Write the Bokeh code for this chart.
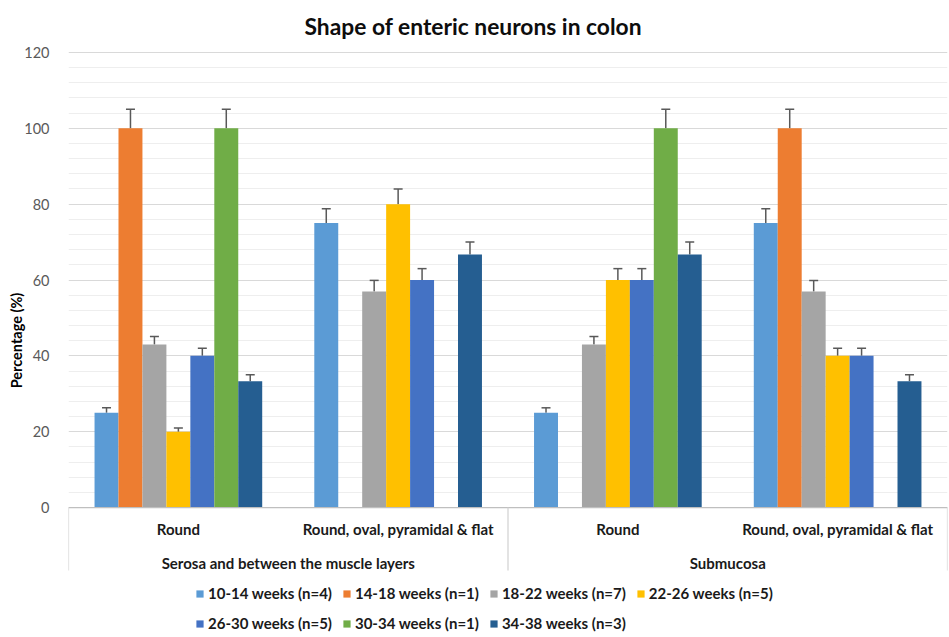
from bokeh.plotting import figure
from bokeh.models import Range1d, FixedTicker, ColumnDataSource, Whisker, TeeHead
from bokeh.core.properties import value
from bokeh.embed import file_html
from bokeh.resources import INLINE

# ---- data ----
title_text = "Shape of enteric neurons in colon"
y_label = "Percentage (%)"
groups = ["Serosa and between the muscle layers", "Submucosa"]
shapes = ["Round", "Round, oval, pyramidal & flat"]
series_names = ["10-14 weeks (n=4)", "14-18 weeks (n=1)", "18-22 weeks (n=7)",
                "22-26 weeks (n=5)", "26-30 weeks (n=5)", "30-34 weeks (n=1)",
                "34-38 weeks (n=3)"]
# values per cluster: [Serosa-Round, Serosa-Mixed, Submucosa-Round, Submucosa-Mixed]
w10_14 = [25, 75, 25, 75]
w14_18 = [100, 0, 0, 100]
w18_22 = [43, 57, 43, 57]
w22_26 = [20, 80, 60, 40]
w26_30 = [40, 60, 60, 40]
w30_34 = [100, 0, 100, 0]
w34_38 = [33.3, 66.7, 66.7, 33.3]
# upper error bar sizes
e10_14 = [1.3, 3.8, 1.3, 3.8]
e14_18 = [5, 0, 0, 5]
e18_22 = [2.1, 2.9, 2.1, 2.9]
e22_26 = [1, 4, 3, 2]
e26_30 = [2, 3, 3, 2]
e30_34 = [5, 0, 5, 0]
e34_38 = [1.7, 3.3, 3.3, 1.7]
y_ticks = [0, 20, 40, 60, 80, 100, 120]
y_minor = [4, 8, 12, 16, 24, 28, 32, 36, 44, 48, 52, 56, 64, 68, 72, 76,
           84, 88, 92, 96, 104, 108, 112, 116]

series_vals = [w10_14, w14_18, w18_22, w22_26, w26_30, w30_34, w34_38]
series_errs = [e10_14, e14_18, e18_22, e22_26, e26_30, e30_34, e34_38]
colors = ["#5B9BD5", "#ED7D31", "#A5A5A5", "#FFC000", "#4472C4", "#70AD47", "#255E91"]

FONT = "Lato"
n_clusters = len(groups) * len(shapes)
bw = 0.109

p = figure(width=948, height=636, output_backend="svg", toolbar_location=None,
           x_range=Range1d(0, n_clusters), y_range=Range1d(-34.0, 122.1),
           x_axis_location=None, min_border_left=68, min_border_right=1,
           min_border_bottom=0, min_border_top=44)
p.outline_line_color = None
p.background_fill_color = "white"
p.border_fill_color = "white"

p.title.text = title_text
p.title.align = "left"
p.title.offset = 236
p.title.vertical_align = "top"
p.title.text_font = FONT
p.title.text_font_size = "22.8px"
p.title.text_font_style = "bold"
p.title.text_color = "#0d0d0d"
p.title.standoff = 6

p.xgrid.visible = False
p.ygrid.ticker = FixedTicker(ticks=y_ticks, minor_ticks=y_minor)
p.ygrid.grid_line_color = "#d9d9d9"
p.ygrid.grid_line_width = 1
p.ygrid.minor_grid_line_color = "#eeeeee"
p.ygrid.minor_grid_line_width = 1

p.yaxis.ticker = FixedTicker(ticks=y_ticks)
p.yaxis.axis_line_color = None
p.yaxis.major_tick_line_color = None
p.yaxis.minor_tick_line_color = None
p.yaxis.major_label_text_font = FONT
p.yaxis.major_label_text_font_size = "14.5px"
p.yaxis.major_label_text_color = "#595959"
p.yaxis.major_label_standoff = 13
p.yaxis.axis_label = y_label
p.yaxis.axis_label_text_font = FONT
p.yaxis.axis_label_text_font_size = "14.5px"
p.yaxis.axis_label_text_font_style = "bold"
p.yaxis.axis_label_text_color = "#000000"
p.yaxis.axis_label_standoff = -4

centers = [k + 0.5 for k in range(n_clusters)]

for j, (name, vals, errs, col) in enumerate(zip(series_names, series_vals, series_errs, colors)):
    xs = [c + (j - 3) * bw for c in centers]
    p.vbar(x=xs, top=vals, width=bw, fill_color=col, line_color=None,
           legend_label=name)
    keep = [i for i, v in enumerate(vals) if v > 0]
    src = ColumnDataSource(dict(x=[xs[i] for i in keep],
                                lo=[vals[i] for i in keep],
                                hi=[vals[i] + errs[i] for i in keep]))
    wk = Whisker(source=src, base="x", lower="lo", upper="hi",
                 line_color="#595959", line_width=1.5, lower_head=None,
                 upper_head=TeeHead(size=9, line_color="#595959", line_width=1.5))
    p.add_layout(wk)

# axis baseline and category separators
p.segment(x0=[0], y0=[0], x1=[n_clusters], y1=[0], line_color="#bfbfbf", line_width=1.2)
sep_x = [0, 2, 4]
p.segment(x0=sep_x, y0=[0] * 3, x1=sep_x, y1=[-16.6] * 3, line_color="#d0d0d0", line_width=1.2)

p.text(x=centers, y=[-5.6] * n_clusters, text=shapes * len(groups),
       text_font=value(FONT), text_font_size="15px", text_font_style="bold",
       text_color="#1a1a1a", text_align="center", text_baseline="middle")
p.text(x=[1, 3], y=[-14.6] * 2, text=groups,
       text_font=value(FONT), text_font_size="15px", text_font_style="bold",
       text_color="#1a1a1a", text_align="center", text_baseline="middle")

lg = p.legend[0]
lg.orientation = "horizontal"
lg.ncols = 4
lg.location = (127, 3)
lg.border_line_color = None
lg.background_fill_alpha = 0
lg.padding = 0
lg.margin = 0
lg.spacing = 10
lg.glyph_width = 9
lg.glyph_height = 9
lg.label_height = 20
lg.label_standoff = 4
lg.label_text_font = FONT
lg.label_text_font_size = "15px"
lg.label_text_font_style = "bold"
lg.label_text_color = "#1a1a1a"

open("out.html", "w").write(file_html(p, INLINE))
